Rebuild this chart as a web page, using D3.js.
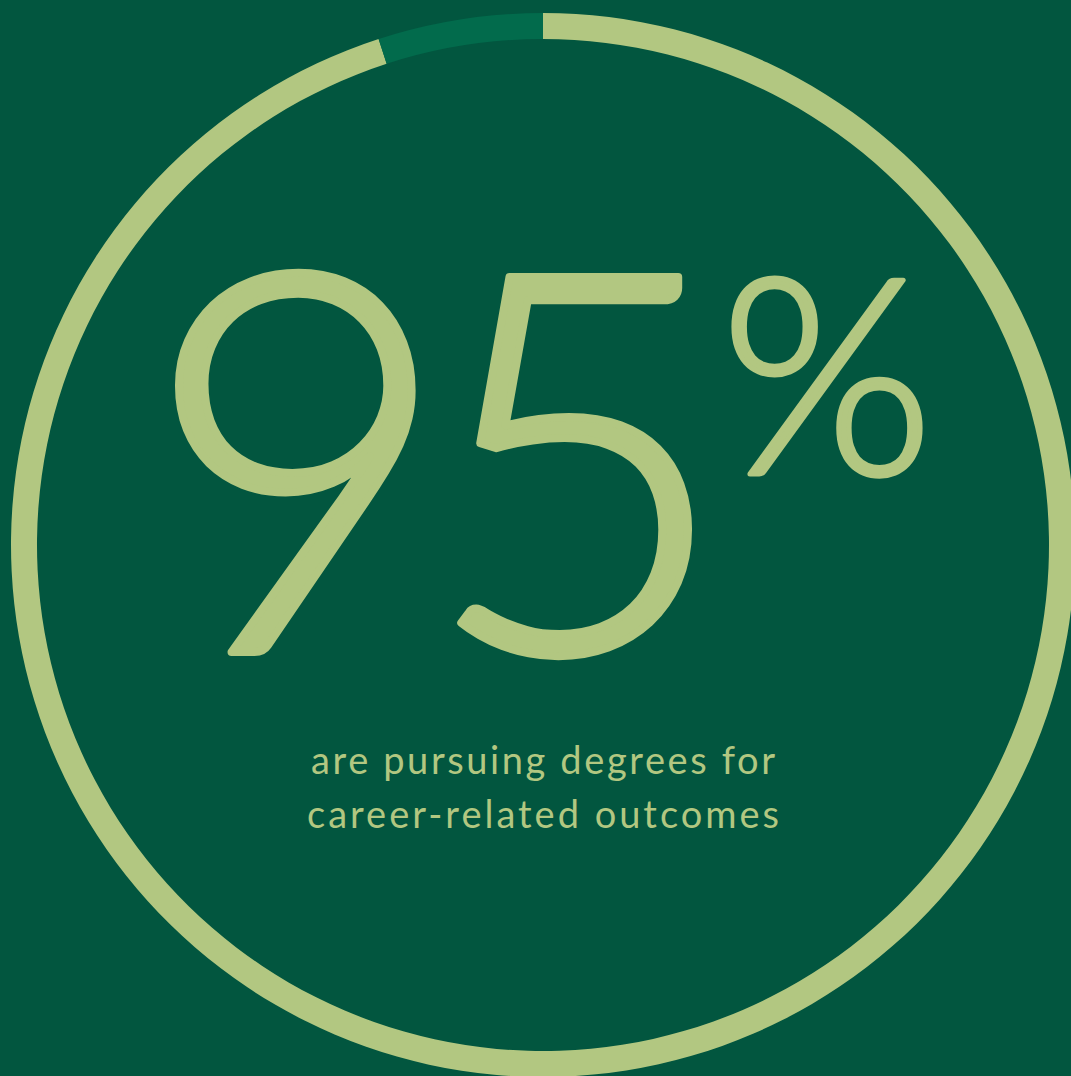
<!DOCTYPE html>
<html>
<head>
<meta charset="utf-8">
<script src="https://cdn.jsdelivr.net/npm/d3@7/dist/d3.min.js"></script>
<style>
  html, body { margin: 0; padding: 0; background: #02563F; overflow: hidden; }
  svg { display: block; }
</style>
</head>
<body>
<svg id="chart" width="1071" height="1076"></svg>
<script>
// Data
const categories = ["Career-related outcomes", "Other"];
const values = [95, 5];
const bigNumber = ["9", "5"];
const percentSign = "%";
const captionLines = ["are pursuing degrees for", "career-related outcomes"];

const colors = { bg: "#02563F", main: "#B2C781", rest: "#026B4C" };

const W = 1071, H = 1076;
const cx = 543, cy = 545, rOuter = 532, rInner = 506;

const svg = d3.select("#chart");
svg.append("rect").attr("width", W).attr("height", H).attr("fill", colors.bg);

const color = d3.scaleOrdinal().domain(categories).range([colors.main, colors.rest]);
const pie = d3.pie().sort(null).value(d => d.v);
const arcs = pie(categories.map((c, i) => ({ c, v: values[i] })));
const arc = d3.arc().innerRadius(rInner).outerRadius(rOuter);

const g = svg.append("g").attr("transform", `translate(${cx},${cy})`);
g.selectAll("path").data(arcs).join("path")
  .attr("d", arc)
  .attr("fill", d => color(d.data.c));

const font = "Lato, 'Open Sans', sans-serif";
// big number
const digitX = d3.scaleOrdinal().domain(bigNumber).range([298, 577]);
svg.selectAll("text.big").data(bigNumber).join("text")
  .attr("class", "big")
  .attr("x", d => digitX(d))
  .attr("y", 652)
  .attr("text-anchor", "middle")
  .attr("font-family", font)
  .attr("font-weight", 300)
  .attr("font-size", 530)
  .attr("fill", colors.main)
  .attr("stroke", colors.main)
  .attr("stroke-width", 8)
  .attr("stroke-linejoin", "round")
  .text(d => d);

svg.append("text")
  .attr("x", 827).attr("y", 474)
  .attr("text-anchor", "middle")
  .attr("font-family", font)
  .attr("font-weight", 300)
  .attr("font-size", 274)
  .attr("fill", colors.main)
  .attr("stroke", colors.main)
  .attr("stroke-width", 5)
  .attr("stroke-linejoin", "round")
  .text(percentSign);

const capWidths = [464, 472];
svg.selectAll("text.cap").data(captionLines).join("text")
  .attr("class", "cap")
  .attr("x", (d, i) => 543 - capWidths[i] / 2)
  .attr("y", (d, i) => 774 + i * 54)
  .attr("text-anchor", "start")
  .attr("textLength", (d, i) => capWidths[i])
  .attr("lengthAdjust", "spacing")
  .attr("font-family", font)
  .attr("font-weight", 400)
  .attr("font-size", 38)
  .attr("fill", colors.main)
  .text(d => d);
</script>
</body>
</html>
